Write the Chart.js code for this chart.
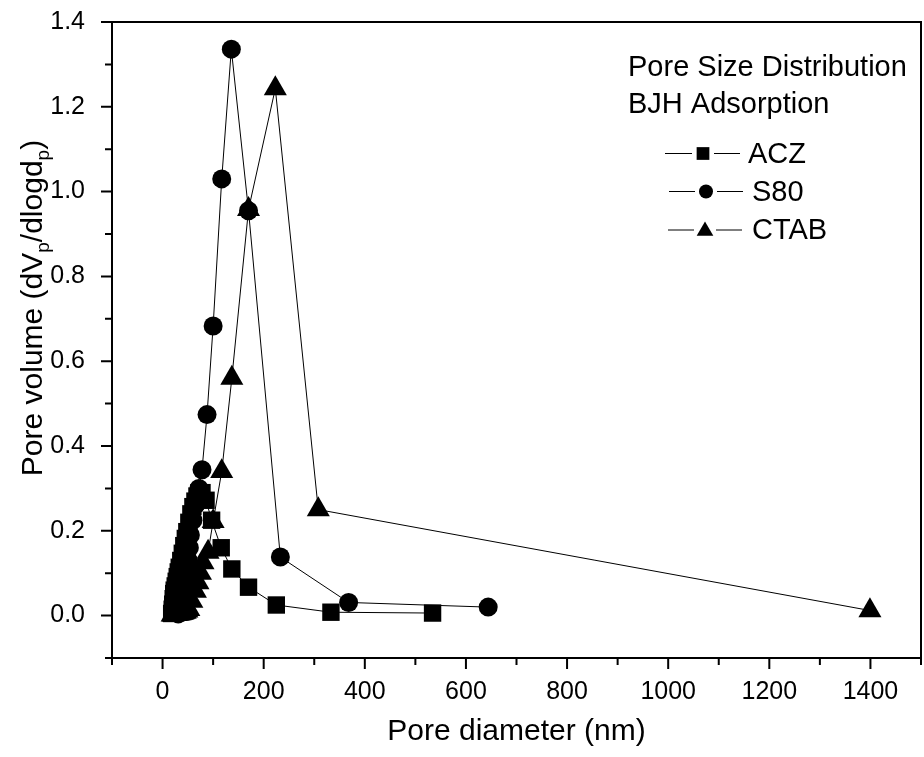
<!DOCTYPE html>
<html>
<head>
<meta charset="utf-8">
<title>Pore Size Distribution</title>
<script src="https://cdn.jsdelivr.net/npm/chart.js@4.4.1/dist/chart.umd.min.js"></script>
<style>
    html, body { margin: 0; padding: 0; background: #fff; }
    canvas { display: block; }
</style>
</head>
<body>
<canvas id="chart" width="924" height="757"></canvas>
<script>
let seriesNames = ['ACZ', 'S80', 'CTAB']

// pore diameter (nm) / pore volume
let aczDiameter = [18, 19, 20, 21, 22, 23, 25, 27, 29, 31, 33, 36, 39, 42, 45, 48, 52, 56, 60, 64, 68, 72, 78, 86, 97, 116, 137, 170, 225, 333, 534]
let aczVolume = [0.005, 0.015, 0.027, 0.04, 0.052, 0.06, 0.07, 0.081, 0.092, 0.103, 0.114, 0.13, 0.147, 0.165, 0.182, 0.198, 0.22, 0.24, 0.257, 0.27, 0.282, 0.29, 0.29, 0.272, 0.225, 0.16, 0.11, 0.067, 0.025, 0.008, 0.006]

let s80Diameter = [31, 34, 37, 40, 43, 46, 49, 51, 53, 55, 60, 66, 72, 78, 88, 100, 117, 136, 170, 233, 368, 644]
let s80Volume = [0.004, 0.01, 0.018, 0.03, 0.05, 0.075, 0.1, 0.13, 0.16, 0.19, 0.225, 0.262, 0.3, 0.344, 0.474, 0.683, 1.03, 1.336, 0.955, 0.138, 0.031, 0.02]

let ctabDiameter = [19, 21, 23, 25, 27, 29, 31, 33, 35, 37, 39, 41, 43, 45, 48, 52, 58, 65, 70, 75, 80, 90, 100, 117, 137, 170, 223, 308, 1399]
let ctabVolume = [0.002, 0.002, 0.003, 0.003, 0.003, 0.004, 0.004, 0.005, 0.005, 0.006, 0.006, 0.007, 0.008, 0.009, 0.011, 0.015, 0.034, 0.058, 0.078, 0.1, 0.125, 0.15, 0.222, 0.34, 0.56, 0.958, 1.243, 0.25, 0.012]

let xMajorTicks = [0, 200, 400, 600, 800, 1000, 1200, 1400]
let yMajorTicks = [0.0, 0.2, 0.4, 0.6, 0.8, 1.0, 1.2, 1.4]

let font = "'Liberation Sans', Arial, sans-serif"

function toPoints(xs, ys) {
    return xs.map((x, i) => ({x, y: ys[i]}))
}

function drawMarker(ctx, style, x, y, r) {
    ctx.beginPath()
    if (style === 'rect') {
        let s = r * Math.SQRT1_2
        ctx.rect(x - s, y - s, 2 * s, 2 * s)
    } else if (style === 'circle') {
        ctx.arc(x, y, r, 0, Math.PI * 2)
    } else {
        ctx.moveTo(x, y - r)
        ctx.lineTo(x + r * 0.866, y + r / 2)
        ctx.lineTo(x - r * 0.866, y + r / 2)
        ctx.closePath()
    }
    ctx.fill()
}

let isMajor = (v, list) => list.some((m) => Math.abs(m - v) < 1e-6)

// box, minor/major ticks, axis titles, legend block
let decorations = {
    id: 'decorations',
    afterDraw(chart) {
        let {ctx, chartArea: a, scales: {x, y}} = chart
        ctx.save()
        ctx.strokeStyle = '#000'
        ctx.fillStyle = '#000'
        ctx.lineWidth = 2

        ctx.strokeRect(a.left, a.top, a.right - a.left, a.bottom - a.top)

        ctx.beginPath()
        for (let v = -100; v <= 1500; v += 100) {
            let px = x.getPixelForValue(v)
            let len = isMajor(v, xMajorTicks) ? 11 : 7
            ctx.moveTo(px, a.bottom)
            ctx.lineTo(px, a.bottom + len)
        }
        for (let i = -1; i <= 14; i++) {
            let v = i / 10
            let py = y.getPixelForValue(v)
            let len = isMajor(v, yMajorTicks) ? 11 : 7
            ctx.moveTo(a.left, py)
            ctx.lineTo(a.left - len, py)
        }
        ctx.stroke()

        // x title
        ctx.font = `30px ${font}`
        ctx.textAlign = 'center'
        ctx.textBaseline = 'alphabetic'
        ctx.fillText('Pore diameter (nm)', (a.left + a.right) / 2, 740)

        // y title with subscripts
        let parts = [
            ['Pore volume (dV', false],
            ['p', true],
            ['/dlogd', false],
            ['p', true],
            [')', false],
        ]
        let big = `30px ${font}`
        let small = `19px ${font}`
        let total = 0
        parts.forEach(([t, sub]) => {
            ctx.font = sub ? small : big
            total += ctx.measureText(t).width
        })
        ctx.translate(42, 308)
        ctx.rotate(-Math.PI / 2)
        ctx.textAlign = 'left'
        let cx = -total / 2
        parts.forEach(([t, sub]) => {
            ctx.font = sub ? small : big
            ctx.fillText(t, cx, sub ? 7 : 0)
            cx += ctx.measureText(t).width
        })
        ctx.setTransform(1, 0, 0, 1, 0, 0)

        // legend
        ctx.font = `29px ${font}`
        ctx.textAlign = 'left'
        ctx.fillText('Pore Size Distribution', 628, 76)
        ctx.fillText('BJH Adsorption', 628, 113)

        let rows = [
            {style: 'rect', r: 9, lx: 665, mx: 703, rx: 740, ly: 153.5, tx: 748, ty: 163},
            {style: 'circle', r: 7, lx: 669, mx: 706, rx: 743, ly: 191.5, tx: 752, ty: 201},
            {style: 'triangle', r: 9.6, lx: 668, mx: 705, rx: 742, ly: 230, tx: 752, ty: 239},
        ]
        ctx.lineWidth = 1
        rows.forEach((r, i) => {
            ctx.beginPath()
            ctx.moveTo(r.lx, r.ly)
            ctx.lineTo(r.mx - 11, r.ly)
            ctx.moveTo(r.mx + 11, r.ly)
            ctx.lineTo(r.rx, r.ly)
            ctx.stroke()
            drawMarker(ctx, r.style, r.mx, r.style === 'triangle' ? r.ly + 1 : r.ly, r.r)
            ctx.fillText(seriesNames[i], r.tx, r.ty)
        })
        ctx.restore()
    },
}

let common = {
    showLine: true,
    borderColor: '#000',
    borderWidth: 1,
    backgroundColor: '#000',
    pointBackgroundColor: '#000',
    pointBorderColor: '#000',
    pointBorderWidth: 0,
    pointHoverRadius: 0,
    tension: 0,
}

new Chart(document.getElementById('chart'), {
    type: 'scatter',
    data: {
        datasets: [
            {...common, label: seriesNames[0], data: toPoints(aczDiameter, aczVolume), pointStyle: 'rect', pointRadius: 12.3, order: 3},
            {...common, label: seriesNames[1], data: toPoints(s80Diameter, s80Volume), pointStyle: 'circle', pointRadius: 9.5, order: 2},
            {...common, label: seriesNames[2], data: toPoints(ctabDiameter, ctabVolume), pointStyle: 'triangle', pointRadius: 13.3, order: 1},
        ],
    },
    options: {
        responsive: false,
        animation: false,
        events: [],
        layout: {autoPadding: false, padding: {left: 0, top: 22, right: 3, bottom: 0}},
        plugins: {
            legend: {display: false},
            tooltip: {enabled: false},
        },
        scales: {
            x: {
                type: 'linear',
                min: -100,
                max: 1500,
                grid: {display: false},
                border: {display: false},
                afterFit(scale) {
                    scale.height = 99
                    scale.paddingLeft = 0
                    scale.paddingRight = 0
                },
                ticks: {
                    stepSize: 100,
                    maxRotation: 0,
                    autoSkip: false,
                    padding: 11,
                    color: '#000',
                    font: {family: font, size: 25},
                    callback: (v) => isMajor(v, xMajorTicks) ? String(v) : '',
                },
            },
            y: {
                type: 'linear',
                min: -0.1,
                max: 1.4,
                grid: {display: false},
                border: {display: false},
                afterFit(scale) {
                    scale.width = 112
                    scale.paddingTop = 0
                    scale.paddingBottom = 0
                },
                ticks: {
                    stepSize: 0.1,
                    autoSkip: false,
                    padding: 19,
                    color: '#000',
                    font: {family: font, size: 25},
                    callback: (v) => isMajor(v, yMajorTicks) ? v.toFixed(1) : '',
                },
            },
        },
    },
    plugins: [decorations],
})
</script>
</body>
</html>
